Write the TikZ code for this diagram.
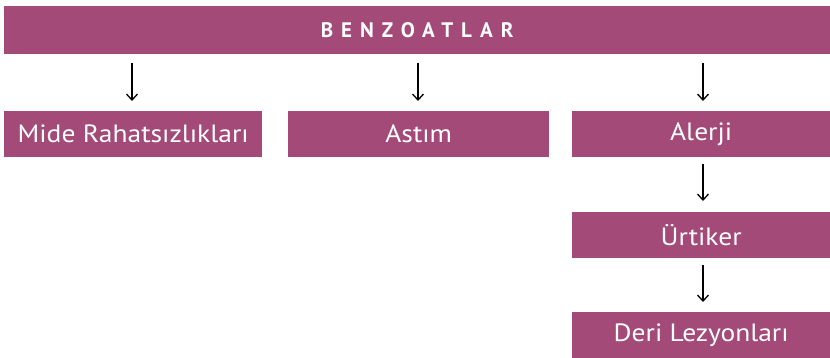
\documentclass[tikz,border=0pt]{standalone}
\usepackage{fontspec}
\setmainfont{PT Sans}
\newfontfamily\boxfont[FakeStretch=1.1]{PT Sans}
\newfontfamily\titlefont[LetterSpace=38]{PT Sans Bold}
\usetikzlibrary{arrows.meta}
\definecolor{plum}{HTML}{A34A78}
\tikzset{
  box/.style={fill=plum, draw=none, anchor=north west, inner sep=0pt, text=white,
    font=\boxfont\fontsize{25}{28}\selectfont},
  arr/.style={-{Straight Barb[length=6pt,width=11pt,line width=1.3pt]}, line width=1.3pt, black},
}
\begin{document}
\begin{tikzpicture}[x=1pt,y=-1pt]
\useasboundingbox (0,0) rectangle (830,358);
\node[box, minimum width=826pt, minimum height=48pt, font=\titlefont\fontsize{21}{24}\selectfont] (top) at (4,6) {BENZOATLAR};
\node[box, minimum width=258pt, minimum height=46pt] (mide) at (4,111) {Mide Rahatsızlıkları};
\node[box, minimum width=261pt, minimum height=46pt] (astim) at (288,111) {Astım};
\node[box, minimum width=258pt, minimum height=46pt] (alerji) at (572,111) {Alerji};
\node[box, minimum width=258pt, minimum height=46pt] (urt) at (572,212) {Ürtiker};
\node[box, minimum width=258pt, minimum height=46pt] (deri) at (572,312) {Deri Lezyonları};
\coordinate (a1s) at (132,63); \coordinate (a1e) at (132,101);
\coordinate (a2s) at (418,63); \coordinate (a2e) at (418,101);
\coordinate (a3s) at (703,63); \coordinate (a3e) at (703,101);
\coordinate (a4s) at (703,164); \coordinate (a4e) at (703,201);
\coordinate (a5s) at (703,265); \coordinate (a5e) at (703,302);
\draw[arr] (a1s) -- (a1e);
\draw[arr] (a2s) -- (a2e);
\draw[arr] (a3s) -- (a3e);
\draw[arr] (a4s) -- (a4e);
\draw[arr] (a5s) -- (a5e);
\end{tikzpicture}
\end{document}
